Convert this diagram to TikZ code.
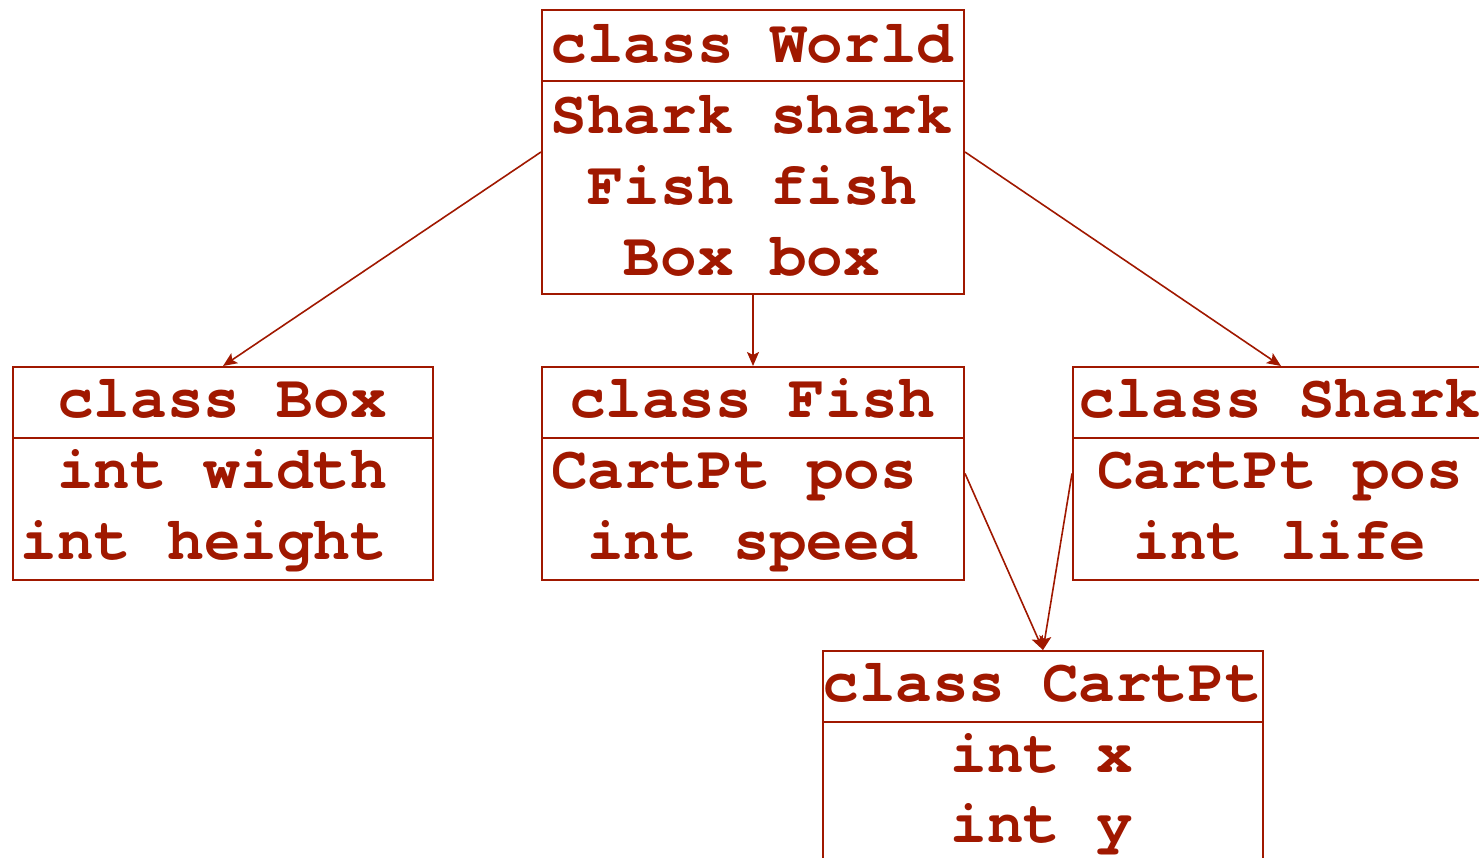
\documentclass[tikz,border=0pt]{standalone}
\usepackage{fontspec}
\newfontfamily\cursorbold{texgyrecursor-bold.otf}[Ligatures=NoCommon]
\usetikzlibrary{arrows.meta}
\definecolor{ink}{RGB}{160,24,0}
\tikzset{
  classbox/.style={draw=ink, line width=2bp, rectangle, inner sep=0pt, anchor=north west},
  txt/.style={inner sep=0pt, anchor=base, text=ink, font=\cursorbold\fontsize{61bp}{71bp}\selectfont},
  divider/.style={draw=ink, line width=2bp},
  conn/.style={draw=ink, line width=1.6bp, -{Stealth[length=14bp,width=12bp,inset=3bp]}}
}
\begin{document}
\begin{tikzpicture}[x=1bp,y=-1bp]
\useasboundingbox (0,0) rectangle (1479,857);
% boxes
\node[classbox, minimum width=422bp, minimum height=284bp] (World) at (541,9) {};
\node[classbox, minimum width=420bp, minimum height=213bp] (Box) at (12,366) {};
\node[classbox, minimum width=422bp, minimum height=213bp] (Fish) at (541,366) {};
\node[classbox, minimum width=416bp, minimum height=213bp] (Shark) at (1072,366) {};
\node[classbox, minimum width=440bp, minimum height=290bp] (CartPt) at (822,650) {};
% dividers
\draw[divider] (541,81) -- (963,81);
\draw[divider] (12,438) -- (432,438);
\draw[divider] (541,438) -- (963,438);
\draw[divider] (1072,438) -- (1488,438);
\draw[divider] (822,722) -- (1262,722);
% texts
\node[txt] (w0) at (752,62) {class World};
\node[txt] (w1) at (752,133) {Shark shark};
\node[txt] (w2) at (752,204) {Fish f{}ish};
\node[txt] (w3) at (752,275) {Box box};
\node[txt] (b0) at (222,417) {class Box};
\node[txt] (b1) at (222,488) {int width};
\node[txt] (b2) at (204,559) {int height};
\node[txt] (f0) at (752,417) {class Fish};
\node[txt] (f1) at (734,488) {CartPt pos};
\node[txt] (f2) at (752,559) {int speed};
\node[txt] (s0) at (1280,417) {class Shark};
\node[txt] (s1) at (1280,488) {CartPt pos};
\node[txt] (s2) at (1280,559) {int life};
\node[txt] (c0) at (1042,701) {class CartPt};
\node[txt] (c1) at (1042,772) {int x};
\node[txt] (c2) at (1042,842) {int y};
% connectors
\draw[conn] (World.west) -- (Box.north);
\draw[conn] (World.south) -- (Fish.north);
\draw[conn] (World.east) -- (Shark.north);
\draw[conn] (Fish.east) -- (CartPt.north);
\draw[conn] (Shark.west) -- (CartPt.north);
\end{tikzpicture}
\end{document}
